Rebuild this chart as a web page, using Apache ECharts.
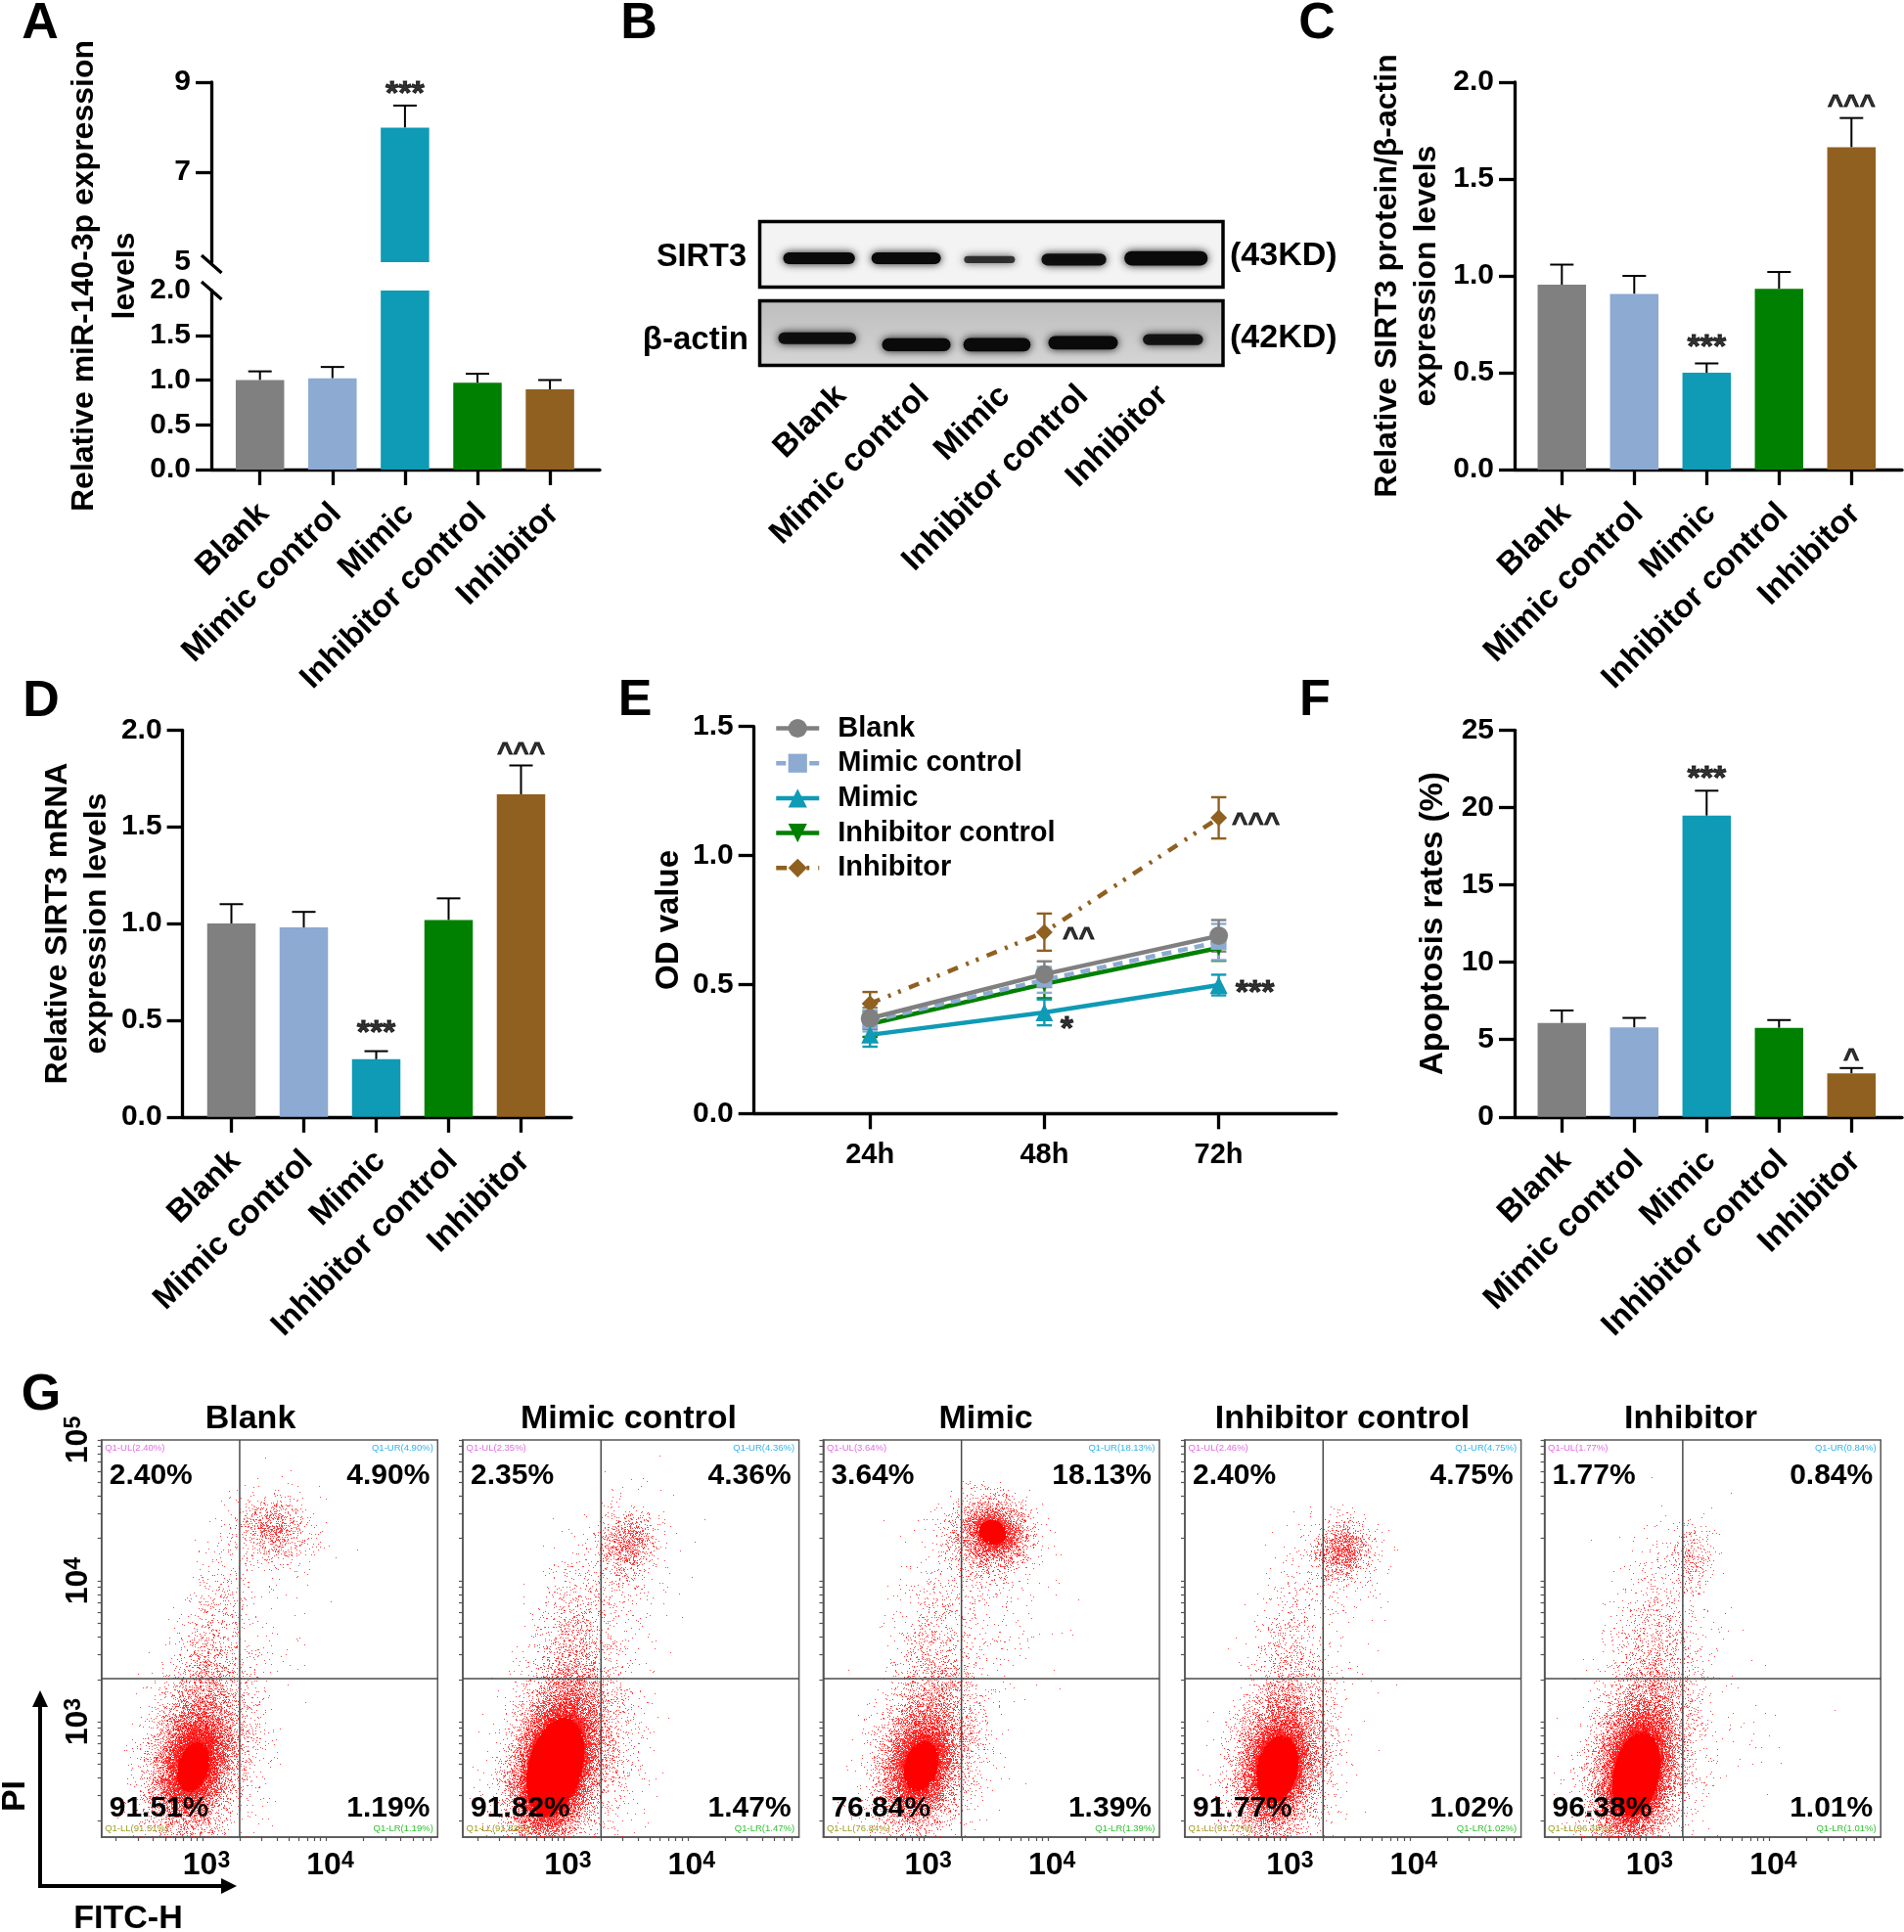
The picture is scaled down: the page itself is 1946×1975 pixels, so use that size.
<!DOCTYPE html>
<html><head><meta charset="utf-8">
<style>html,body{margin:0;padding:0;background:#fff}#c{width:1946px;height:1975px}</style>
<script src="https://cdn.jsdelivr.net/npm/echarts@6/dist/echarts.min.js"></script>
</head><body><div id="c"></div>
<script>
// ---------- data ----------
const groups = ['Blank','Mimic control','Mimic','Inhibitor control','Inhibitor'];
const groupColors = ['#808080','#8caad2','#0f9ab5','#008000','#8f6020'];

const aValues = [1.0,1.02,7.99,0.97,0.895];
const aErrTop = [1.097,1.146,8.48,1.07,1.0];
const cValues = [0.954,0.907,0.5,0.933,1.664];
const cErrTop = [1.058,1.0,0.548,1.02,1.815];
const dValues = [1.0,0.98,0.298,1.018,1.668];
const dErrTop = [1.10,1.06,0.34,1.13,1.817];
const fValues = [6.07,5.78,19.47,5.76,2.82];
const fErrTop = [6.88,6.4,21.08,6.26,3.16];

const times = ['24h','48h','72h'];
const odBlank = [0.369,0.54,0.689], odBlankErr = [0.041,0.05,0.061];
const odMimicC = [0.358,0.518,0.665], odMimicCErr = [0.04,0.05,0.07];
const odMimic = [0.305,0.392,0.498], odMimicErr = [0.046,0.05,0.04];
const odInhC = [0.347,0.502,0.642], odInhCErr = [0.05,0.055,0.05];
const odInh = [0.426,0.703,1.146], odInhErr = [0.045,0.072,0.08];

// Western blot bands: lane centre %, width %, height %, thickness %, darkness
const sirt3Bands = [[12.8,15.5,44,18,1],[31.6,15,44,18,1],[49.6,11,42,11,0.75],[67.8,14,42,18,0.95],[87.7,18,44,22,1]];
const actinBands = [[12.4,16.8,42,18,0.95],[33.8,14.8,32,20,1],[51.2,14.5,32,21,1],[69.8,15,35,21,1],[89.2,13,40,17,0.9]];

// Flow cytometry density regions, in log10 units:
// [centre FITC, centre PI, spread FITC, spread PI, lean deg, peak density]
const blankCloud = [
 [3.55,3.7,0.2,0.4,10,0.008],[3.38,2.85,0.1,0.35,0,0.05],[3.07,3.75,0.13,0.3,15,0.06],[3.05,3.35,0.14,0.32,10,0.13],
 [3.0,2.95,0.18,0.33,10,0.15],[2.93,2.72,0.18,0.28,12,0.85],[2.92,2.68,0.13,0.19,15,1.4],
 [3.55,4.3,0.2,0.2,20,0.05],[3.55,4.38,0.15,0.11,20,0.36]];
const mimicControlCloud = [
 [3.55,3.7,0.2,0.4,10,0.012],[3.42,2.85,0.14,0.35,0,0.06],[3.08,3.7,0.17,0.33,15,0.11],[3.06,3.2,0.15,0.3,8,0.24],
 [2.95,2.72,0.19,0.31,12,1.0],[2.93,2.68,0.14,0.23,15,3],
 [3.5,4.2,0.17,0.2,15,0.07],[3.5,4.27,0.11,0.11,15,0.45]];
const mimicCloud = [
 [3.6,3.7,0.22,0.4,8,0.018],[3.38,2.9,0.12,0.35,0,0.05],[3.07,3.7,0.16,0.36,8,0.07],[3.07,3.2,0.15,0.3,5,0.16],
 [2.97,2.72,0.18,0.27,12,0.8],[2.97,2.69,0.13,0.18,15,1.5],
 [3.4,4.05,0.2,0.22,20,0.04],[3.53,4.32,0.18,0.15,20,0.4],[3.55,4.35,0.13,0.1,20,1.3]];
const inhibitorControlCloud = [
 [3.5,3.7,0.18,0.35,8,0.008],[3.32,2.85,0.1,0.35,0,0.04],[3.03,3.68,0.15,0.32,12,0.06],[3.03,3.2,0.16,0.3,5,0.15],
 [2.93,2.7,0.18,0.27,10,0.85],[2.93,2.67,0.13,0.19,12,2],
 [3.42,4.15,0.18,0.17,10,0.07],[3.46,4.22,0.11,0.1,10,0.65]];
const inhibitorCloud = [
 [3.7,2.9,0.3,0.3,0,0.006],[3.4,3.5,0.15,0.4,5,0.012],[3.35,2.9,0.1,0.35,0,0.05],[3.05,3.72,0.18,0.36,10,0.07],[3.06,3.22,0.16,0.32,5,0.18],
 [2.92,2.68,0.18,0.31,10,1.0],[2.92,2.63,0.13,0.21,12,2.5],
 [3.38,4.15,0.09,0.13,10,0.2]];

const flowTitles = groups;
const flowClouds = [blankCloud,mimicControlCloud,mimicCloud,inhibitorControlCloud,inhibitorCloud];
const flowLabels = [['2.40%','4.90%','91.51%','1.19%'],['2.35%','4.36%','91.82%','1.47%'],['3.64%','18.13%','76.84%','1.39%'],['2.40%','4.75%','91.77%','1.02%'],['1.77%','0.84%','96.38%','1.01%']];
const flowGateLabels = [['2.40%','4.90%','91.51%','1.19%'],['2.35%','4.36%','91.82%','1.47%'],['3.64%','18.13%','76.84%','1.39%'],['2.46%','4.75%','91.77%','1.02%'],['1.77%','0.84%','96.38%','1.01%']];
const flowTickValues = [200,300,400,500,600,700,800,900,1000,2000,3000,4000,5000,6000,7000,8000,9000,10000,20000,30000,40000,50000,60000,70000,80000,90000,100000];
const gateFITC = 3.3, gatePI = 3.306;

// ---------- shared styling ----------
const FF = '"Liberation Sans", Arial, sans-serif';
const AXW = 3.3;
const grid = [], xAxis = [], yAxis = [], series = [], graphic = [];

function txt(text,x,y,size,opt){
  opt = opt||{};
  graphic.push({type:'text',x,y,z:100,rotation:opt.rot||0,silent:true,
    style:{text,fontFamily:FF,fontSize:size,fontWeight:opt.weight||'bold',fill:opt.fill||'#000',align:opt.align||'center',verticalAlign:'middle',lineHeight:opt.lh}});
}
function addGrid(g,x,y){
  const idx=grid.length;
  grid.push(g); xAxis.push(Object.assign({},x,{gridIndex:idx})); yAxis.push(Object.assign({},y,{gridIndex:idx}));
  return idx;
}
const labelNudge=0.054;
const catX = (labelMargin)=>({type:'value',
  axisLine:{onZero:false,lineStyle:{color:'#000',width:AXW}},
  axisTick:{length:16,lineStyle:{color:'#000',width:AXW},customValues:[0,1,2,3,4]},
  axisLabel:{customValues:[0,1,2,3,4].map(v=>v+labelNudge),rotate:45,margin:labelMargin,color:'#000',fontFamily:FF,fontWeight:'bold',fontSize:33,formatter:v=>groups[Math.round(v)]},
  splitLine:{show:false}});
const yLab = (o)=>Object.assign({margin:21,color:'#000',fontFamily:FF,fontWeight:'bold',fontSize:30,padding:[5,0,0,0]},o);
const valY = (o)=>Object.assign({type:'value',
  axisLine:{show:true,onZero:false,lineStyle:{color:'#000',width:AXW}},
  axisTick:{show:true,length:16,lineStyle:{color:'#000',width:AXW}},
  axisLabel:yLab(),
  splitLine:{show:false},
  nameLocation:'middle',nameRotate:90,
  nameTextStyle:{color:'#000',fontFamily:FF,fontWeight:'bold',fontSize:32,lineHeight:40}},o);

function errRender(capW,lw){
  return function(params,api){
    const x=api.value(0), lo=api.value(1), hi=api.value(2);
    const a=api.coord([x,lo]), b=api.coord([x,hi]);
    const st={stroke:api.visual('color'),lineWidth:lw};
    const kids=[{type:'line',shape:{x1:a[0],y1:a[1],x2:b[0],y2:b[1]},style:st},
      {type:'line',shape:{x1:b[0]-capW/2,y1:b[1],x2:b[0]+capW/2,y2:b[1]},style:st}];
    if(api.value(3)===1) kids.push({type:'line',shape:{x1:a[0]-capW/2,y1:a[1],x2:a[0]+capW/2,y2:a[1]},style:st});
    return {type:'group',children:kids};
  };
}
function barSeries(idx,vals,name){
  series.push({type:'bar',name,xAxisIndex:idx,yAxisIndex:idx,barWidth:49.5,silent:true,
    data:vals.map((v,i)=>v==null?null:{value:[i,v],itemStyle:{color:groupColors[i]}}).filter(Boolean)});
}
function errSeries(idx,vals,tops){
  series.push({type:'custom',xAxisIndex:idx,yAxisIndex:idx,silent:true,renderItem:errRender(24,2),
    itemStyle:{color:'#000'},encode:{x:0,y:[1,2]},
    data:tops.map((t,i)=>t==null?null:[i,vals[i],t,0]).filter(Boolean)});
}
function noteSeries(idx,notes){
  series.push({type:'scatter',xAxisIndex:idx,yAxisIndex:idx,silent:true,symbolSize:1,itemStyle:{color:'transparent'},z:5,
    data:notes.map(n=>({value:[n[0],n[1]],
      label:{show:true,position:'inside',formatter:n[2],color:'#000',fontFamily:FF,fontWeight:'bold',
        textBorderColor:'#000',textBorderWidth:0.9,
        fontSize:n[2][0]==='*'?34:28,offset:[0,6]}}))});
}
function barPanel(left,top,height,width,xmin,xmax,yOpt,vals,tops,notes,name,labelMargin){
  const i = addGrid({left,top,width,height},Object.assign(catX(labelMargin),{min:xmin,max:xmax}),valY(yOpt));
  barSeries(i,vals,name); errSeries(i,vals,tops); noteSeries(i,notes);
  return i;
}
const fix1 = v=>v.toFixed(1);

// ---------- A (broken axis) ----------
const axMin=(216-265.7)/74.1, axMax=(613-265.7)/74.1;
const LM=40;
{
  const lo = addGrid({left:216,top:297,width:397,height:183},Object.assign(catX(LM),{min:axMin,max:axMax}),
    valY({min:0,max:2,interval:0.5,axisTick:{show:true,length:16,lineStyle:{color:'#000',width:AXW},customValues:[0,0.5,1,1.5]},
      axisLabel:yLab({formatter:fix1})}));
  const hi = addGrid({left:216,top:84,width:397,height:184},{type:'value',min:axMin,max:axMax,show:false},
    valY({min:5,max:9,interval:2,axisTick:{show:true,length:16,lineStyle:{color:'#000',width:AXW},customValues:[7,9]}}));
  barSeries(lo,aValues,'miR-140-3p');
  errSeries(lo,aValues.map((v,i)=>i===2?null:v),aErrTop.map((v,i)=>i===2?null:v));
  barSeries(hi,aValues.map((v,i)=>i===2?v:null),'miR-140-3p (upper)');
  errSeries(hi,aValues,aErrTop.map((v,i)=>i===2?v:null));
  noteSeries(hi,[[2,8.85,'***']]);
  txt('Relative miR-140-3p expression\nlevels',107,282,32,{rot:Math.PI/2,lh:42});
  [270,297].forEach(y=>graphic.push({type:'line',z:100,silent:true,shape:{x1:206,y1:y-9,x2:226.5,y2:y+9},style:{stroke:'#000',lineWidth:AXW}}));
}
// ---------- C ----------
const cxMin=(1548-1596.3)/74, cxMax=(1944-1596.3)/74;
barPanel(1548,84,396,396,cxMin,cxMax,{min:0,max:2,interval:0.5,name:'Relative SIRT3 protein/β-actin\nexpression levels',nameGap:70,
  axisLabel:yLab({formatter:fix1})},
  cValues,cErrTop,[[2,0.66,'***'],[4,1.91,'^^^']],'SIRT3 protein',LM);
// ---------- D ----------
const dxMin=(186.6-236.5)/74, dxMax=(584-236.5)/74;
barPanel(186.6,746.3,395.5,397.4,dxMin,dxMax,{min:0,max:2,interval:0.5,name:'Relative SIRT3 mRNA\nexpression levels',nameGap:67,
  axisLabel:yLab({formatter:fix1})},
  dValues,dErrTop,[[2,0.46,'***'],[4,1.91,'^^^']],'SIRT3 mRNA',LM);
// ---------- F ----------
barPanel(1548,746.3,395.5,396,cxMin,cxMax,{min:0,max:25,interval:5,name:'Apoptosis rates (%)',nameGap:67,
  nameTextStyle:{color:'#000',fontFamily:FF,fontWeight:'bold',fontSize:33}},
  fValues,fErrTop,[[2,22.2,'***'],[4,4.1,'^']],'Apoptosis',LM);

// ---------- E ----------
{
  const i = addGrid({left:770.7,top:742.7,width:595.1,height:395.6},
   {type:'value',min:(770.7-889.2)/178.2,max:(1365.8-889.2)/178.2,
    axisLine:{onZero:false,lineStyle:{color:'#000',width:AXW}},
    axisTick:{length:16,lineStyle:{color:'#000',width:AXW},customValues:[0,1,2]},
    axisLabel:{customValues:[0,1,2],margin:28,color:'#000',fontFamily:FF,fontWeight:'bold',fontSize:29,formatter:v=>times[v]},
    splitLine:{show:false}},
   valY({min:0,max:1.5,interval:0.5,name:'OD value',nameGap:70,
     nameTextStyle:{color:'#000',fontFamily:FF,fontWeight:'bold',fontSize:33},
     axisLabel:yLab({formatter:fix1})}));
  const lines = [
    ['Inhibitor',odInh,odInhErr,'#8f6020','diamond',17,[11,9,3,8,3,9],0],
    ['Inhibitor control',odInhC,odInhCErr,'#008000','triangle',16,'solid',180],
    ['Mimic control',odMimicC,odMimicCErr,'#8caad2','rect',16,[10,7],0],
    ['Blank',odBlank,odBlankErr,'#808080','circle',19,'solid',0],
    ['Mimic',odMimic,odMimicErr,'#0f9ab5','triangle',18,'solid',0]];
  lines.forEach(l=>{
    series.push({type:'custom',xAxisIndex:i,yAxisIndex:i,silent:true,name:l[0]+' error',renderItem:errRender(15.5,2.4),
      itemStyle:{color:l[3]},encode:{x:0,y:[1,2]},
      data:l[1].map((v,k)=>[k,v-l[2][k],v+l[2][k],1])});
    series.push({type:'line',name:l[0],xAxisIndex:i,yAxisIndex:i,silent:true,data:l[1].map((v,k)=>[k,v]),
      symbol:l[4],symbolSize:l[5],symbolRotate:l[7],showSymbol:true,
      itemStyle:{color:l[3]},lineStyle:{color:l[3],width:4.5,type:l[6]}});
  });
  noteSeries(i,[[2,1.146,'^^^'],[1,0.703,'^^'],[2,0.498,'***'],[1,0.358,'*']]);
  series[series.length-1].data.forEach((d,k)=>{ d.label.offset=[[38,6],[35,6],[37,9],[23,9]][k]; });
}
const legend = [{orient:'vertical',left:786,top:725,padding:5,itemWidth:44,itemHeight:24,itemGap:6.7,selectedMode:false,
  lineStyle:{width:4.5},
  data:groups,textStyle:{color:'#000',fontFamily:FF,fontWeight:'bold',fontSize:29,lineHeight:20,padding:[0,0,0,14]}}];

// ---------- B (blots) ----------
function bandSeries(idx,bands){
  series.push({type:'custom',xAxisIndex:idx,yAxisIndex:idx,silent:true,clip:true,
    renderItem:(p,api)=>{
      const c=api.coord([api.value(0),api.value(2)]), s=api.size([api.value(1),api.value(3)]);
      return {type:'rect',shape:{x:c[0]-s[0]/2,y:c[1]-s[1]/2,width:s[0],height:s[1],r:s[1]/2},
        style:{fill:'#0a0a0a',opacity:api.value(4),shadowBlur:9,shadowColor:'rgba(0,0,0,0.9)'}};
    },
    encode:{x:0,y:2},data:bands});
}
{
  const g1=addGrid({left:776.5,top:226.5,width:473.5,height:67,show:true,backgroundColor:'#f3f3f3',borderColor:'#000',borderWidth:3.5},{type:'value',min:0,max:100,show:false},{type:'value',min:0,max:100,show:false});
  const lanes=[17.6,35.5,52.9,69.8,87.1];
  const g2=addGrid({left:776.5,top:307.5,width:473.5,height:66,show:true,
      backgroundColor:{type:'linear',x:0,y:0,x2:0,y2:1,colorStops:[{offset:0,color:'#bcbcbc'},{offset:1,color:'#d6d6d6'}]},borderColor:'#000',borderWidth:3.5},
    {type:'value',min:0,max:100,axisLine:{show:false},axisTick:{show:false},splitLine:{show:false},
     axisLabel:{customValues:lanes,rotate:45,margin:26,color:'#000',fontFamily:FF,fontWeight:'bold',fontSize:33,formatter:v=>groups[lanes.indexOf(v)]}},
    {type:'value',min:0,max:100,show:false});
  bandSeries(g1,sirt3Bands); bandSeries(g2,actinBands);
  txt('SIRT3',763,263,32.5,{align:'right'});
  txt('β-actin',765,348,33,{align:'right'});
  txt('(43KD)',1257,262,34,{align:'left'});
  txt('(42KD)',1257,346,34,{align:'left'});
}

// ---------- G (flow cytometry) ----------
// Each hand-read region above is painted as a stippled sprite whose dot density falls off from its
// centre. The dither threshold below is only the rendering texture; it adds no data values.
function dither(i,j,seed){ const s=Math.sin(i*12.9898+j*78.233+seed*37.719)*43758.5453; return s-Math.floor(s); }
function stippleSprite(sx,sy,leanDeg,peak,seed){
  const t=leanDeg*Math.PI/180, cs=Math.cos(t), sn=Math.sin(t);
  const R=Math.ceil(3.1*Math.max(sx,sy)), n=2*R+1;
  const cv=document.createElement('canvas'); cv.width=cv.height=n;
  const ctx=cv.getContext('2d'), img=ctx.createImageData(n,n), d=img.data;
  for(let j=0;j<n;j++)for(let i=0;i<n;i++){
    const dx=i-R, dy=j-R, u=dx*cs+dy*sn, v=dx*sn-dy*cs;
    const g=peak*Math.exp(-0.5*(u*u/(sx*sx)+v*v/(sy*sy)));
    if(dither(i,j,seed)<g){ const o=(j*n+i)*4; d[o]=255; d[o+1]=0; d[o+2]=0; d[o+3]=g>=0.9?255:190; }
  }
  ctx.putImageData(img,0,0);
  return {cv,R,n};
}
function cloudSeries(idx,cloud,panel){
  const cache={};
  series.push({type:'custom',xAxisIndex:idx,yAxisIndex:idx,silent:true,clip:true,z:2,
    renderItem:(p,api)=>{
      const c=api.coord([api.value(0),api.value(1)]), s=api.size([api.value(2),api.value(3)]);
      const key=p.dataIndex;
      const sp=cache[key]||(cache[key]=stippleSprite(s[0],s[1],api.value(4),api.value(5),panel*11+key+1));
      return {type:'image',x:Math.round(c[0])-sp.R,y:Math.round(c[1])-sp.R,
        style:{image:sp.cv,x:0,y:0,width:sp.n,height:sp.n}};
    },
    encode:{x:0,y:1},data:cloud});
}
function gateSeries(idx){
  series.push({type:'custom',xAxisIndex:idx,yAxisIndex:idx,silent:true,z:3,
    renderItem:(p,api)=>{
      const g=api.coord([api.value(0),api.value(1)]);
      const sz=api.coord([4.9,5]), o=api.coord([2.183,2.182]);
      const st={stroke:'#4a4a4a',lineWidth:1.5};
      return {type:'group',children:[
        {type:'line',shape:{x1:g[0],y1:o[1],x2:g[0],y2:sz[1]},style:st},
        {type:'line',shape:{x1:o[0],y1:g[1],x2:sz[0],y2:g[1]},style:st}]};
    },
    data:[[gateFITC,gatePI]],encode:{x:0,y:1}});
}
const logTicks=flowTickValues.map(v=>Math.log10(v));
const flowLefts=[103.7,473,841.4,1211,1578.6];
const flowTitleX=[256,642.4,1007.6,1372,1728];
const powRich={b:{fontFamily:FF,fontWeight:'bold',fontSize:32,color:'#000'},s:{fontFamily:FF,fontWeight:'bold',fontSize:23,color:'#000',verticalAlign:'top'}};
flowLefts.forEach((left,k)=>{
  const w=343.6;
  const i=addGrid({left,top:1472,width:w,height:406,show:true,borderColor:'#555',borderWidth:1.5},
    {type:'value',min:2.183,max:4.9,axisLine:{onZero:false,lineStyle:{color:'#555',width:1.5}},
     axisTick:{length:4,lineStyle:{color:'#555',width:1.2},customValues:logTicks.filter(v=>v<=4.9)},
     axisLabel:{customValues:[3,4],margin:13,formatter:v=>'{b|10}{s|'+v+'}',rich:powRich,padding:[0,0,0,8]},splitLine:{show:false}},
    {type:'value',min:2.182,max:5,axisLine:{show:true,onZero:false,lineStyle:{color:'#555',width:1.5}},
     axisTick:{show:true,length:4,lineStyle:{color:'#555',width:1.2},customValues:logTicks},
     axisLabel:k===0?{customValues:[3,4,5],rotate:90,margin:8,formatter:v=>'{b|10}{s|'+v+'}',rich:powRich}:{show:false},splitLine:{show:false}});
  cloudSeries(i,flowClouds[k],k);
  gateSeries(i);
  txt(flowTitles[k],flowTitleX[k],1451,34);
  const big=flowLabels[k], small=flowGateLabels[k];
  txt(big[0],left+8,1508.5,30,{align:'left'});
  txt(big[1],left+w-8,1508.5,30,{align:'right'});
  txt(big[2],left+8,1849,30,{align:'left'});
  txt(big[3],left+w-8,1849,30,{align:'right'});
  const sm=(t,x,y,c,al)=>txt(t,x,y,9.5,{weight:'normal',fill:c,align:al});
  sm('Q1-UL('+small[0]+')',left+3.5,1480.7,'#e36be3','left');
  sm('Q1-UR('+small[1]+')',left+w-4.5,1480.7,'#2fb4f0','right');
  sm('Q1-LL('+small[2]+')',left+3.5,1869.4,'#9c9c22','left');
  sm('Q1-LR('+small[3]+')',left+w-4.5,1869.4,'#2cc22c','right');
});
// PI / FITC-H arrows
graphic.push({type:'polyline',z:100,silent:true,shape:{points:[[41,1742],[41,1928],[226,1928]]},style:{stroke:'#000',lineWidth:4,fill:null}});
graphic.push({type:'polygon',z:100,silent:true,shape:{points:[[33,1745],[41,1728],[49,1745]]},style:{fill:'#000'}});
graphic.push({type:'polygon',z:100,silent:true,shape:{points:[[226,1920],[242,1928],[226,1936]]},style:{fill:'#000'}});
txt('PI',16,1836,34,{rot:Math.PI/2});
txt('FITC-H',131,1962,34);

// panel letters
[['A',41,25],['B',653,25],['C',1346,25],['D',42,718],['E',649,717],['F',1344,717],['G',42,1427]].forEach(l=>txt(l[0],l[1],l[2],52));

const chart=echarts.init(document.getElementById('c'),null,{renderer:'canvas'});
chart.setOption({animation:false,backgroundColor:'#fff',textStyle:{fontFamily:FF},grid,xAxis,yAxis,series,graphic,legend});
</script></body></html>
